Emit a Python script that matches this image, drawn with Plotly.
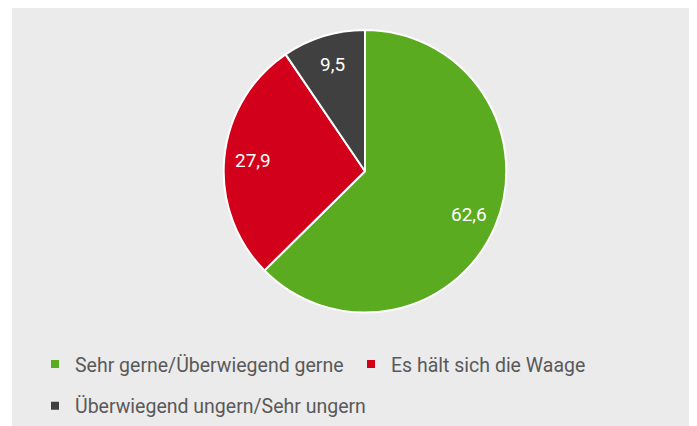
import math
import plotly.graph_objects as go

labels = ["Sehr gerne/Überwiegend gerne", "Es hält sich die Waage", "Überwiegend ungern/Sehr ungern"]
values = [62.6, 27.9, 9.5]
colors = ["#5aab1f", "#d2001a", "#404040"]

# the page body has an 8px margin, so the figure is 8px smaller than the window
W, H = 689, 418
FONT = "Roboto, sans-serif"

cx, cy, r = 357, 164, 142   # pie centre / radius in figure pixels

fig = go.Figure()
fig.add_trace(go.Pie(
    labels=labels,
    values=values,
    sort=False,
    direction="clockwise",
    rotation=0,
    marker=dict(colors=colors, line=dict(color="white", width=2)),
    textinfo="none",
    hoverinfo="label+value",
    showlegend=False,
    domain=dict(x=[(cx - r) / W, (cx + r) / W], y=[(H - cy - r) / H, (H - cy + r) / H]),
))

# value labels placed along each slice's bisector
total = sum(values)
cum = 0.0
for v in values:
    mid = (cum + v / 2) / total * 2 * math.pi
    cum += v
    dx = 0.79 * r * math.sin(mid)
    dy = -0.79 * r * math.cos(mid)
    fig.add_annotation(
        x=(cx + dx) / W, y=1 - (cy + dy) / H, xref="paper", yref="paper",
        xanchor="center", yanchor="middle",
        text=f"{v:.1f}".replace(".", ","), showarrow=False,
        font=dict(color="white", size=19, family=FONT),
    )

# legend entries (squares) via invisible-data scatter traces
for i, (lab, col) in enumerate(zip(labels, colors)):
    fig.add_trace(go.Scatter(
        x=[None], y=[None], mode="markers", name=lab,
        marker=dict(symbol="square", size=8, color=col),
        legend="legend" if i < 2 else "legend2",
        hoverinfo="skip",
    ))

legend_common = dict(
    orientation="h", xanchor="left", yanchor="middle",
    font=dict(family=FONT, size=19.5, color="#595959"),
    itemclick=False, itemdoubleclick=False,
    bgcolor="rgba(0,0,0,0)",
)

fig.update_layout(
    width=W, height=H,
    margin=dict(l=0, r=0, t=0, b=0),
    paper_bgcolor="white",
    plot_bgcolor="rgba(0,0,0,0)",
    xaxis=dict(visible=False),
    yaxis=dict(visible=False),
    shapes=[dict(type="rect", xref="paper", yref="paper", layer="below",
                 x0=4 / W, x1=685 / W, y0=-0.02, y1=1.02,
                 fillcolor="#ebebeb", line=dict(width=0))],
    legend=dict(x=27 / W, y=1 - 358 / H, entrywidth=271, entrywidthmode="pixels", **legend_common),
    legend2=dict(x=27 / W, y=1 - 400 / H, **legend_common),
)

fig.write_html("out.html")
